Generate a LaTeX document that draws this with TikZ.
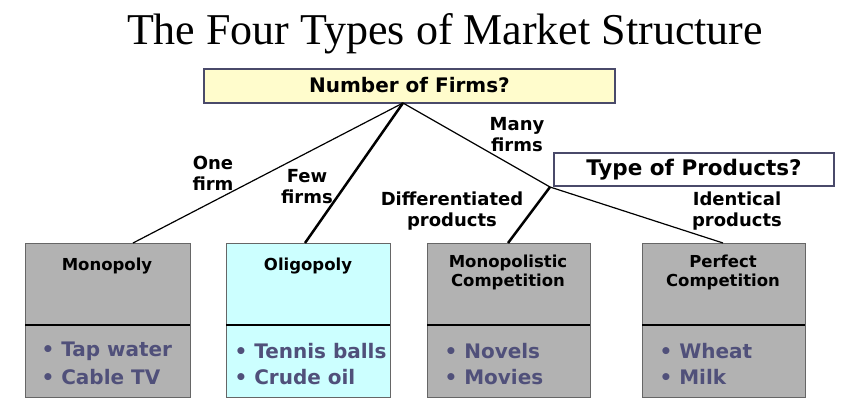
\documentclass[tikz,border=0pt]{standalone}
\usepackage{fontspec}
\setmainfont{Liberation Serif}
\newfontfamily\vb{DejaVu Sans}
\definecolor{itc}{HTML}{50507A}
\definecolor{oli}{HTML}{CCFFFF}
\definecolor{qb}{HTML}{4A4A6A}
\begin{document}
\begin{tikzpicture}[x=1pt,y=-1pt,
  qbox/.style={draw=qb,line width=2pt,inner sep=0},
  mkt/.style={draw=gray!80!black,line width=1pt,fill=gray!60},
  lbl/.style={font=\vb\bfseries\fontsize{18}{21}\selectfont,align=center},
  ttl/.style={font=\vb\bfseries\fontsize{16.5}{19}\selectfont,align=center},
  itm/.style={font=\vb\bfseries\fontsize{20}{22}\selectfont,text=itc,anchor=west},
  conn/.style={line width=1.2pt}]
\useasboundingbox (0,0) rectangle (844,415);
\node (title) at (445,34) {\fontsize{44}{48}\selectfont The Four Types of Market Structure};
\node[qbox,fill=yellow!20,minimum width=411,minimum height=34] (nf) at (409.5,85.5) {\vb\bfseries\fontsize{20}{22}\selectfont Number of Firms?};
\node[qbox,fill=white,minimum width=280,minimum height=33] (tp) at (694,169.5) {\vb\bfseries\fontsize{21.5}{24}\selectfont Type of Products?};
\coordinate (apex) at (403,103);
\coordinate (jn) at (550,187);
% boxes
\foreach \n/\xa/\xb/\f in {mono/25/190/gray!60, oli/226/390/oli, mc/427/590/gray!60, pc/642/805/gray!60}{
  \draw[mkt,fill=\f] (\xa,243) rectangle (\xb,397);
  \draw[line width=1.5pt] (\xa,325) -- (\xb,325);
  \coordinate (\n) at ({(\xa+\xb)/2},243);
}
\node[ttl] (t1) at (107,266) {Monopoly};
\node[ttl] (t2) at (308,266) {Oligopoly};
\node[ttl] (t3) at (508,272) {Monopolistic\\Competition};
\node[ttl] (t4) at (723,272) {Perfect\\Competition};
\node[itm] (i1) at (38,351) {• Tap water};
\node[itm] (i2) at (38,377) {• Cable TV};
\node[itm] (i3) at (231,351) {• Tennis balls};
\node[itm] (i4) at (231,377) {• Crude oil};
\node[itm] (i5) at (441,351) {• Novels};
\node[itm] (i6) at (441,377) {• Movies};
\node[itm] (i7) at (656,351) {• Wheat};
\node[itm] (i8) at (656,377) {• Milk};
% connectors
\draw[conn] (apex) -- (133,243);
\draw[line width=2.5pt] (apex) -- (305,243);
\draw[conn] (apex) -- (jn);
\draw[line width=2.5pt] (jn) -- (508,243);
\draw[conn] (jn) -- (723,243);
\node[lbl] (l1) at (213,173) {One\\firm};
\node[lbl] (l2) at (307,187) {Few\\firms};
\node[lbl] (l3) at (517,135) {Many\\firms};
\node[lbl] (l4) at (452,211) {Differentiated\\products};
\node[lbl] (l5) at (737,211) {Identical\\products};
\end{tikzpicture}
\end{document}
